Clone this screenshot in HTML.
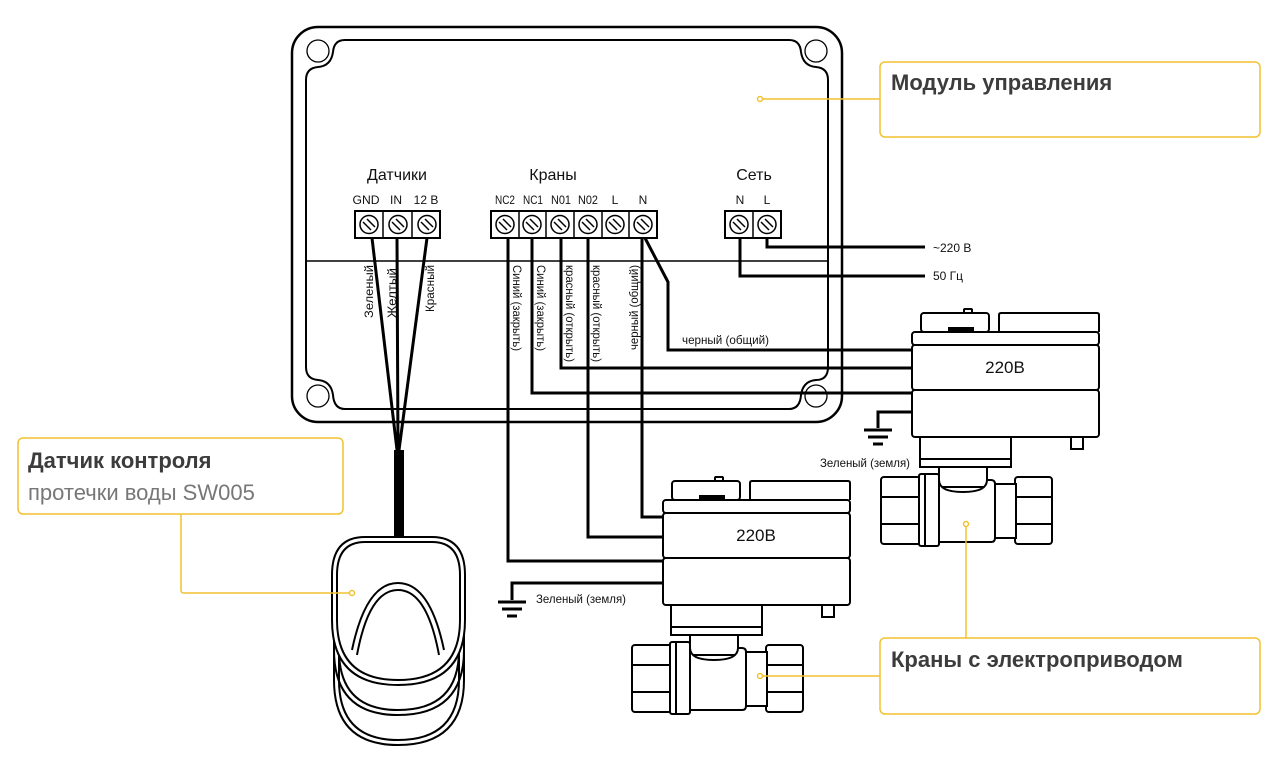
<!DOCTYPE html>
<html><head><meta charset="utf-8"><style>
html,body{margin:0;padding:0;background:#fff;}
svg{display:block;}
.t{font-family:"Liberation Sans","DejaVu Sans",sans-serif;}
</style></head><body>
<svg width="1280" height="761" viewBox="0 0 1280 761" xmlns="http://www.w3.org/2000/svg">
<defs>
<g id="valve" fill="#fff" stroke="#000" stroke-width="2">
  <rect x="715" y="477" width="8" height="5" rx="1"/>
  <rect x="672" y="481" width="68" height="19" rx="3"/>
  <rect x="700" y="496" width="24" height="5" fill="#000"/>
  <path d="M750,500 V483 Q750,481 752,481 H848 Q850,481 850,483 V500"/>
  <rect x="663" y="500" width="187" height="13" rx="3"/>
  <rect x="663" y="513" width="187" height="45" rx="3"/>
  <rect x="663" y="558" width="187" height="47" rx="3"/>
  <rect x="822" y="605" width="12" height="12"/>
  <rect x="671" y="605" width="91" height="22"/>
  <rect x="671" y="627" width="91" height="8"/>
  <rect x="690" y="635" width="48" height="20"/>
  <rect x="632" y="645" width="48" height="67" rx="3"/>
  <line x1="632" y1="665" x2="680" y2="665"/>
  <line x1="632" y1="692" x2="680" y2="692"/>
  <rect x="766" y="645" width="37" height="67" rx="3"/>
  <line x1="766" y1="665" x2="803" y2="665"/>
  <line x1="766" y1="692" x2="803" y2="692"/>
  <rect x="745" y="652" width="22" height="54"/>
  <path d="M690,648 Q690,660 714,660 Q738,660 738,648 H742 Q746,648 746,652 V706 Q746,710 742,710 H690 Z"/>
  <rect x="670" y="642" width="20" height="72" rx="2"/>
  <line x1="676" y1="642" x2="676" y2="714"/>
  <text x="756" y="541" text-anchor="middle" class="t" font-size="17" fill="#111" stroke="none">220В</text>
</g>
</defs>

<!-- control box -->
<rect x="292" y="27" width="550" height="395" rx="26" fill="none" stroke="#000" stroke-width="2.5"/>
<path d="M306,80 Q306,68 318,67 Q331,66 333,52 Q334,40 345,40 H789 Q800,40 801,52 Q803,66 816,67 Q828,68 828,80 V367 Q828,380 816,380 Q803,381 801,395 Q800,409 789,409 H345 Q334,409 333,395 Q331,381 318,380 Q306,379 306,367 Z" fill="none" stroke="#000" stroke-width="2"/>
<g fill="none" stroke="#000" stroke-width="1.3">
<circle cx="318" cy="51" r="11"/><circle cx="816" cy="51" r="11"/>
<circle cx="318" cy="396" r="11"/><circle cx="816" cy="396" r="11"/>
</g>
<line x1="306" y1="261" x2="828" y2="261" stroke="#000" stroke-width="1.5"/>

<!-- headers -->
<g class="t" fill="#111" text-anchor="middle">
<text x="397" y="180" font-size="16">Датчики</text>
<text x="553" y="180" font-size="16">Краны</text>
<text x="754" y="180" font-size="16">Сеть</text>
<g font-size="12">
<text x="366" y="204" textLength="27" lengthAdjust="spacingAndGlyphs">GND</text><text x="396" y="204">IN</text><text x="426" y="204">12 В</text>
<text x="505" y="204" textLength="20" lengthAdjust="spacingAndGlyphs">NC2</text><text x="533" y="204" textLength="20" lengthAdjust="spacingAndGlyphs">NC1</text><text x="561" y="204" textLength="20" lengthAdjust="spacingAndGlyphs">N01</text><text x="588" y="204" textLength="20" lengthAdjust="spacingAndGlyphs">N02</text><text x="615" y="204">L</text><text x="643" y="204">N</text>
<text x="740" y="204">N</text><text x="767" y="204">L</text>
</g>
</g>

<!-- terminals -->
<g fill="#fff" stroke="#000" stroke-width="2">
<rect x="355" y="211" width="85" height="27"/>
<rect x="491" y="211" width="166" height="27"/>
<rect x="725" y="211" width="56" height="27"/>
</g>
<g stroke="#000" stroke-width="1.5" fill="none">
<line x1="383" y1="211" x2="383" y2="238"/><line x1="412" y1="211" x2="412" y2="238"/>
<line x1="519" y1="211" x2="519" y2="238"/><line x1="546" y1="211" x2="546" y2="238"/><line x1="574" y1="211" x2="574" y2="238"/><line x1="602" y1="211" x2="602" y2="238"/><line x1="629" y1="211" x2="629" y2="238"/>
<line x1="753" y1="211" x2="753" y2="238"/>
<g id="scr">
<circle cx="369" cy="224.5" r="9"/><path d="M363,222 L371,230 M367,219 L375,227"/>
</g>
<use href="#scr" x="29"/><use href="#scr" x="58"/>
<use href="#scr" x="136"/><use href="#scr" x="163"/><use href="#scr" x="191"/><use href="#scr" x="219"/><use href="#scr" x="246"/><use href="#scr" x="274"/>
<use href="#scr" x="370"/><use href="#scr" x="398"/>
</g>

<!-- wires -->
<g fill="none" stroke="#000" stroke-width="3">
<path d="M372,238 L397,450"/><path d="M397,238 L398,450"/><path d="M427,238 L399,450"/>
<path d="M508,238 V561 H663"/>
<path d="M532,238 V393 H912"/>
<path d="M561,238 V368 H912"/>
<path d="M588,238 V537 H663"/>
<path d="M642,238 V517 H663"/>
<path d="M645,238 L668,282 V350 H912"/>
<path d="M740,238 V276 H925"/>
<path d="M767,238 V247 H925"/>
<path d="M663,583 H512 V600"/>
<path d="M912,412 H878 V428"/>
</g>
<rect x="394" y="450" width="10" height="88" fill="#000"/>
<g stroke="#000" stroke-width="3">
<line x1="498" y1="602" x2="526" y2="602"/><line x1="502" y1="609" x2="522" y2="609"/><line x1="507" y1="616" x2="517" y2="616"/>
<line x1="864" y1="430" x2="892" y2="430"/><line x1="868" y1="437" x2="888" y2="437"/><line x1="873" y1="444" x2="883" y2="444"/>
</g>

<!-- wire labels -->
<g class="t" font-size="12" fill="#111" lengthAdjust="spacingAndGlyphs">
<text transform="translate(373,318) rotate(-90)" textLength="53" lengthAdjust="spacingAndGlyphs">Зеленый</text>
<text transform="translate(396,318) rotate(-90)" textLength="50" lengthAdjust="spacingAndGlyphs">Желтый</text>
<text transform="translate(434,312) rotate(-90)" textLength="47" lengthAdjust="spacingAndGlyphs">Красный</text>
<text transform="translate(513,265) rotate(90)" textLength="86" lengthAdjust="spacingAndGlyphs">Синий (закрыть)</text>
<text transform="translate(537,265) rotate(90)" textLength="86" lengthAdjust="spacingAndGlyphs">Синий (закрыть)</text>
<text transform="translate(566,265) rotate(90)" textLength="97" lengthAdjust="spacingAndGlyphs">красный (открыть)</text>
<text transform="translate(593,265) rotate(90)" textLength="97" lengthAdjust="spacingAndGlyphs">красный (открыть)</text>
<text transform="translate(638,350) rotate(-90)" textLength="85" lengthAdjust="spacingAndGlyphs">черный (общий)</text>
<text x="682" y="344" textLength="87" lengthAdjust="spacingAndGlyphs">черный (общий)</text>
<text x="933" y="252">~220 В</text>
<text x="933" y="280">50 Гц</text>
<text x="536" y="603" textLength="90" lengthAdjust="spacingAndGlyphs">Зеленый (земля)</text>
<text x="820" y="467" textLength="90" lengthAdjust="spacingAndGlyphs">Зеленый (земля)</text>
</g>

<!-- valves -->
<use href="#valve"/>
<use href="#valve" transform="translate(249,-168)"/>

<!-- sensor -->
<g fill="none" stroke="#000" stroke-width="2">
<path d="M334,600 V680 Q334,745 398,745 Q464,745 464,680 V600"/>
<path d="M339,600 V680 Q339,740 398,740 Q459,740 459,680 V600"/>
<path d="M334,570 V650 Q334,715 398,715 Q464,715 464,650 V570"/>
<path d="M339,570 V650 Q339,710 398,710 Q459,710 459,650 V570"/>
</g>
<path d="M332,575 Q332,537 365,537 H432 Q465,537 465,575 V620 Q465,685 398,685 Q332,685 332,620 Z" fill="#fff" stroke="#000" stroke-width="2"/>
<path d="M337,575 Q337,542 365,542 H432 Q460,542 460,575 V620 Q460,680 398,680 Q337,680 337,620 Z" fill="none" stroke="#000" stroke-width="2"/>
<path d="M352,650 Q366,583 398,583 Q430,583 444,650" fill="none" stroke="#000" stroke-width="2"/>
<path d="M357,655 Q369,590 398,590 Q427,590 439,655" fill="none" stroke="#000" stroke-width="2"/>

<!-- callouts -->
<g fill="none" stroke="#f2c230" stroke-width="1.5">
<rect x="880" y="62" width="380" height="75" rx="5" fill="#fff"/>
<line x1="760" y1="99" x2="880" y2="99"/>
<rect x="18" y="438" width="325" height="76" rx="5" fill="#fff"/>
<path d="M181,514 V590 Q181,593 184,593 H352"/>
<rect x="880" y="638" width="380" height="76" rx="5" fill="#fff"/>
<line x1="966" y1="524" x2="966" y2="638"/>
<line x1="760" y1="676" x2="880" y2="676"/>
<circle cx="760" cy="99" r="2.5" fill="#fff"/>
<circle cx="352" cy="593" r="2.5" fill="#fff"/>
<circle cx="966" cy="524" r="2.5" fill="#fff"/>
<circle cx="760" cy="676" r="2.5" fill="#fff"/>
</g>
<g class="t" fill="#3c3c3c">
<text x="891" y="90" font-size="22" font-weight="bold">Модуль управления</text>
<text x="28" y="468" font-size="22" font-weight="bold">Датчик контроля</text>
<text x="28" y="500" font-size="22" fill="#777">протечки воды SW005</text>
<text x="891" y="667" font-size="22" font-weight="bold">Краны с электроприводом</text>
</g>
</svg>
</body></html>
